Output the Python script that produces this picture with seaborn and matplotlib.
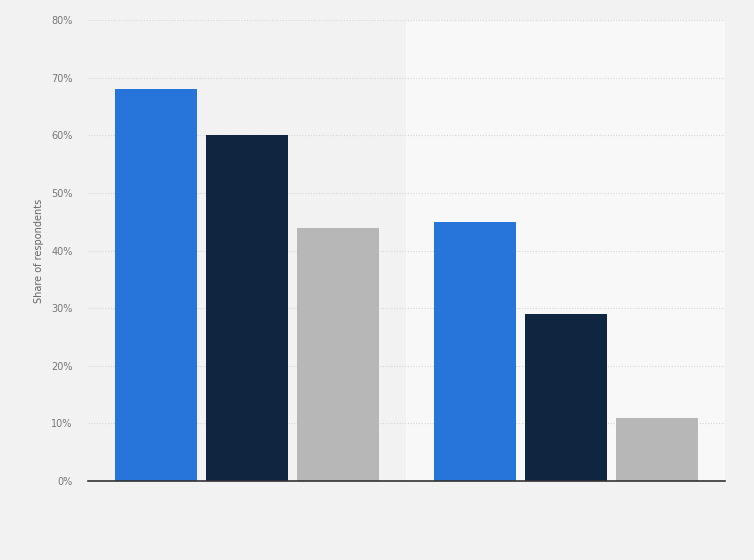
import pandas as pd
import matplotlib.pyplot as plt
import seaborn as sns
from matplotlib.ticker import PercentFormatter

# values (share of respondents, %)
groups = ['A', 'B']
series = ['Series 1', 'Series 2', 'Series 3']
values_s1 = [68, 60, 44]
values_s2 = [45, 29, 11]
colors = ['#2775da', '#0f2640', '#b7b7b7']

df = pd.DataFrame({
    'group': [groups[0]] * 3 + [groups[1]] * 3,
    'series': series * 2,
    'share': values_s1 + values_s2,
})

sns.set_style('white')
plt.rcParams['font.family'] = ['DejaVu Sans']

fig = plt.figure(figsize=(7.54, 5.6), dpi=100, facecolor='#f2f2f2')
ax = fig.add_axes([0.1167, 0.141, 0.8448, 0.823])
ax.set_facecolor('#f2f2f2')

# lighter band behind the second group
ax.axvspan(0.5, 1.5, color='#f8f8f8', zorder=0, lw=0)

sns.barplot(data=df, x='group', y='share', hue='series', palette=colors,
            width=0.857, gap=0.1, saturation=1, legend=False, ax=ax, zorder=2,
            edgecolor='none')

ax.set_xlim(-0.5, 1.5)
ax.set_ylim(0, 80)
ax.set_yticks(range(0, 81, 10))
ax.yaxis.set_major_formatter(PercentFormatter(decimals=0))
ax.grid(axis='y', color='#d6d6d6', linestyle=(0, (1, 1.5)), linewidth=0.8, zorder=1)
ax.set_axisbelow(True)

for s in ['top', 'right', 'left']:
    ax.spines[s].set_visible(False)
ax.spines['bottom'].set_color('#333333')
ax.spines['bottom'].set_linewidth(1.2)

ax.set_xticks([])
ax.set_xlabel('')
ax.set_ylabel('Share of respondents', fontsize=7, color='#666666', labelpad=5)
ax.tick_params(axis='y', length=0, labelsize=7, labelcolor='#777777', pad=11)

plt.savefig('out.png', dpi=100, facecolor=fig.get_facecolor())
